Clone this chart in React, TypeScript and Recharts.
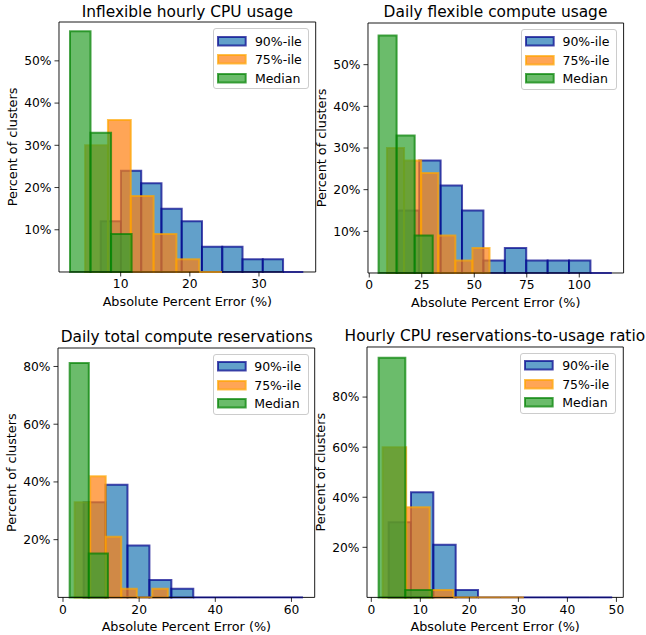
import React from 'react';
import { ComposedChart, XAxis, YAxis, ReferenceArea, ReferenceLine, Legend } from 'recharts';

const FONT = '"DejaVu Sans", sans-serif';

// ---------- data (percent of clusters per histogram bin) ----------
const SERIES_NAMES = ['90%-ile', '75%-ile', 'Median'];

// Panel 1: Inflexible hourly CPU usage
const inflexibleP90 = [12, 24, 21, 15, 12, 6, 6, 3, 3, 0];
const inflexibleP75 = [30, 36, 18, 9, 3, 0];
const inflexibleMedian = [57, 33, 9];
const inflexibleBinStart = [7.11, 4.86, 2.67];
const inflexibleBinWidth = [2.93, 3.3, 2.97];
const inflexibleXTicks = [10, 20, 30];
const inflexibleYTicks = [10, 20, 30, 40, 50];

// Panel 2: Daily flexible compute usage
const flexibleP90 = [15, 27, 21, 15, 3, 6, 3, 3, 3, 0];
const flexibleP75 = [30, 27, 24, 9, 3, 6];
const flexibleMedian = [57, 33, 9];
const flexibleBinStart = [13.6, 8.43, 4.43];
const flexibleBinWidth = [10.19, 8.14, 8.6];
const flexibleXTicks = [0, 25, 50, 75, 100];
const flexibleYTicks = [10, 20, 30, 40, 50];

// Panel 3: Daily total compute reservations
const reservationsP90 = [33, 39, 18, 6, 3, 0, 0, 0, 0, 0];
const reservationsP75 = [33, 42, 21, 3, 0, 3];
const reservationsMedian = [81.2, 15.2];
const reservationsBinStart = [5.42, 3.06, 1.75];
const reservationsBinWidth = [5.76, 4.08, 5.03];
const reservationsXTicks = [0, 20, 40, 60];
const reservationsYTicks = [20, 40, 60, 80];

// Panel 4: Hourly CPU reservations-to-usage ratio
const ratioP90 = [30, 42, 21, 3, 0, 0, 0, 0, 0, 0];
const ratioP75 = [60, 36, 3, 0, 0, 0];
const ratioMedian = [95.7, 3];
const ratioBinStart = [3.53, 2.31, 1.49];
const ratioBinWidth = [4.56, 4.8, 5.45];
const ratioXTicks = [0, 10, 20, 30, 40, 50];
const ratioYTicks = [20, 40, 60, 80];

// ---------- styles / layout ----------
const SERIES_STYLE = [
  { fill: '#1f77b4', edge: '#00008b' },
  { fill: '#ff7f0e', edge: '#ffa500' },
  { fill: '#2ca02c', edge: '#008000' },
];

const Y_AXIS_W = 59;
const TOP_PAD = 20;
const RIGHT_PAD = 7;
const X_AXIS_H = 40;
const BOTTOM_PAD = 8;

type Panel = {
  title: string;
  values: number[][];
  starts: number[];
  widths: number[];
  xTicks: number[];
  yTicks: number[];
  xDomain: [number, number];
  yTop: number;
  plot: { left: number; top: number; right: number; bottom: number };
};

const PANELS: Panel[] = [
  {
    title: 'Inflexible hourly CPU usage',
    values: [inflexibleP90, inflexibleP75, inflexibleMedian],
    starts: inflexibleBinStart,
    widths: inflexibleBinWidth,
    xTicks: inflexibleXTicks,
    yTicks: inflexibleYTicks,
    xDomain: [1.08, 38.2],
    yTop: 59.2,
    plot: { left: 59, top: 22.3, right: 315.7, bottom: 272.3 },
  },
  {
    title: 'Daily flexible compute usage',
    values: [flexibleP90, flexibleP75, flexibleMedian],
    starts: flexibleBinStart,
    widths: flexibleBinWidth,
    xTicks: flexibleXTicks,
    yTicks: flexibleYTicks,
    xDomain: [-0.6, 121.1],
    yTop: 60.0,
    plot: { left: 367.7, top: 22.6, right: 623.3, bottom: 272.6 },
  },
  {
    title: 'Daily total compute reservations',
    values: [reservationsP90, reservationsP75, reservationsMedian],
    starts: reservationsBinStart,
    widths: reservationsBinWidth,
    xTicks: reservationsXTicks,
    yTicks: reservationsYTicks,
    xDomain: [-1.31, 66.1],
    yTop: 86.4,
    plot: { left: 58.3, top: 347.5, right: 315, bottom: 596.9 },
  },
  {
    title: 'Hourly CPU reservations-to-usage ratio',
    values: [ratioP90, ratioP75, ratioMedian],
    starts: ratioBinStart,
    widths: ratioBinWidth,
    xTicks: ratioXTicks,
    yTicks: ratioYTicks,
    xDomain: [-0.88, 51.4],
    yTop: 100,
    plot: { left: 366.7, top: 346.5, right: 623, bottom: 596.9 },
  },
];

const LegendBox = () => (
  <div
    style={{
      width: 96,
      height: 61,
      boxSizing: 'border-box',
      border: '1px solid #cccccc',
      borderRadius: 3,
      background: 'rgba(255,255,255,0.8)',
      position: 'relative',
      fontFamily: FONT,
      fontSize: 12.5,
      color: '#000',
    }}
  >
    {SERIES_NAMES.map((name, i) => (
      <div
        key={name}
        style={{
          position: 'absolute',
          left: 3,
          top: 6.7 + i * 18.3,
          height: 11,
          display: 'flex',
          alignItems: 'center',
          whiteSpace: 'nowrap',
        }}
      >
        <svg width={30} height={11} style={{ display: 'block' }}>
          <rect
            x={1}
            y={1}
            width={27.7}
            height={8.5}
            fill={SERIES_STYLE[i].fill}
            fillOpacity={0.7}
            stroke={SERIES_STYLE[i].edge}
            strokeOpacity={0.7}
            strokeWidth={2}
          />
        </svg>
        <span style={{ marginLeft: 7.7, lineHeight: '11px' }}>{name}</span>
      </div>
    ))}
  </div>
);

function HistPanel({ p }: { p: Panel }) {
  const { plot } = p;
  const chartLeft = plot.left - Y_AXIS_W;
  const chartTop = plot.top - TOP_PAD;
  const width = plot.right - chartLeft + RIGHT_PAD;
  const height = plot.bottom - chartTop + X_AXIS_H + BOTTOM_PAD;
  const rows = p.values[0].map((v, i) => ({ x: p.starts[0] + i * p.widths[0], y: v }));

  const marks: React.ReactNode[] = [];
  p.values.forEach((vals, s) => {
    const st = SERIES_STYLE[s];
    vals.forEach((v, i) => {
      const x1 = p.starts[s] + i * p.widths[s];
      const x2 = x1 + p.widths[s];
      if (v > 0) {
        marks.push(
          <ReferenceArea
            key={`a-${s}-${i}`}
            x1={x1}
            x2={x2}
            y1={0}
            y2={v}
            fill={st.fill}
            fillOpacity={0.7}
            stroke={st.edge}
            strokeOpacity={0.7}
            strokeWidth={2}
            ifOverflow="visible"
          />
        );
      } else {
        marks.push(
          <ReferenceLine
            key={`l-${s}-${i}`}
            segment={[
              { x: x1, y: 0 },
              { x: x2, y: 0 },
            ]}
            stroke={st.edge}
            strokeOpacity={0.7}
            strokeWidth={2}
            ifOverflow="visible"
          />
        );
      }
    });
  });

  const titleBaseline = plot.top - 4.3;
  const legendLeft = plot.right - chartLeft - 6.5 - 96;
  const legendTop = TOP_PAD + 6;

  return (
    <>
      <div
        style={{
          position: 'absolute',
          left: (plot.left + plot.right) / 2 - 200,
          width: 400,
          top: titleBaseline - 13.03,
          textAlign: 'center',
          fontFamily: FONT,
          fontSize: 15.4,
          lineHeight: '15.4px',
          whiteSpace: 'nowrap',
          color: '#000',
        }}
      >
        {p.title}
      </div>
      <div style={{ position: 'absolute', left: chartLeft, top: chartTop }}>
        <ComposedChart
          width={width}
          height={height}
          data={rows}
          margin={{ top: TOP_PAD, right: RIGHT_PAD, bottom: BOTTOM_PAD, left: 0 }}
        >
          <XAxis
            type="number"
            dataKey="x"
            domain={p.xDomain}
            allowDataOverflow
            ticks={p.xTicks}
            interval={0}
            height={X_AXIS_H}
            axisLine={false}
            tickSize={4.5}
            tickMargin={3}
            tickLine={{ stroke: '#000', strokeWidth: 0.8 }}
            tick={{ fill: '#000', fontSize: 12.3, fontFamily: FONT }}
            label={{
              value: 'Absolute Percent Error (%)',
              position: 'insideBottom',
              offset: 6.3,
              style: { fill: '#000', fontSize: 12.8, fontFamily: FONT },
            }}
          />
          <YAxis
            type="number"
            dataKey="y"
            domain={[0, p.yTop]}
            allowDataOverflow
            ticks={p.yTicks}
            interval={0}
            width={Y_AXIS_W}
            axisLine={false}
            tickSize={4.5}
            tickMargin={3}
            tickLine={{ stroke: '#000', strokeWidth: 0.8 }}
            tick={{ fill: '#000', fontSize: 12.3, fontFamily: FONT }}
            tickFormatter={(v: number) => `${v}%`}
            label={{
              value: 'Percent of clusters',
              angle: -90,
              position: 'insideLeft',
              offset: 12,
              style: { fill: '#000', fontSize: 12.8, fontFamily: FONT, textAnchor: 'middle' },
            }}
          />
          {marks}
          <ReferenceArea
            x1={p.xDomain[0]}
            x2={p.xDomain[1]}
            y1={0}
            y2={p.yTop}
            fill="none"
            stroke="#000"
            strokeWidth={0.9}
            ifOverflow="visible"
          />
          <Legend
            layout="horizontal"
            verticalAlign="middle"
            align="center"
            content={() => <LegendBox />}
            wrapperStyle={{ left: legendLeft, top: legendTop, width: 96, height: 61 }}
          />
        </ComposedChart>
      </div>
    </>
  );
}

export default function App() {
  return (
    <div
      style={{
        position: 'absolute',
        left: 0,
        top: 0,
        width: 646,
        height: 635,
        overflow: 'hidden',
        background: '#fff',
      }}
    >
      {PANELS.map((p) => (
        <HistPanel key={p.title} p={p} />
      ))}
    </div>
  );
}
